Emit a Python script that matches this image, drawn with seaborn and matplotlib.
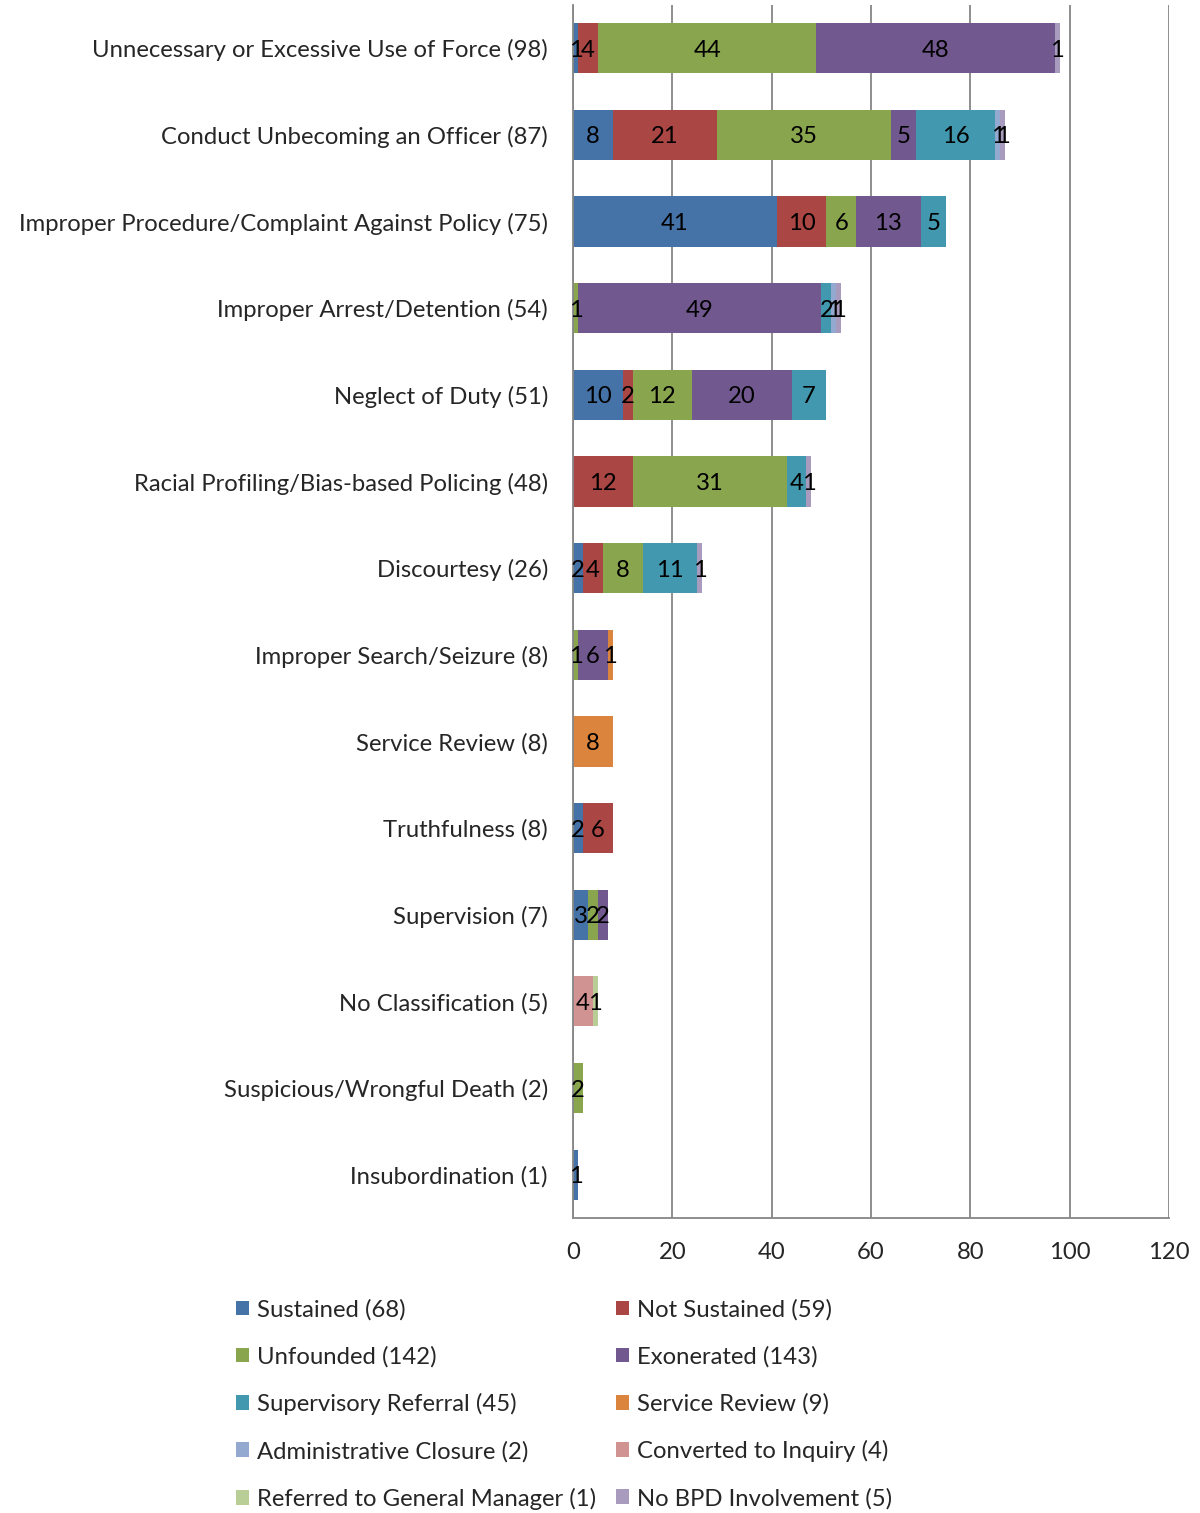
import numpy as np
import pandas as pd
import seaborn as sns
import matplotlib.pyplot as plt
from matplotlib.patches import Patch

# 数据
CATEGORIES = [
    "Unnecessary or Excessive Use of Force (98)",
    "Conduct Unbecoming an Officer (87)",
    "Improper Procedure/Complaint Against Policy (75)",
    "Improper Arrest/Detention (54)",
    "Neglect of Duty (51)",
    "Racial Profiling/Bias-based Policing (48)",
    "Discourtesy (26)",
    "Improper Search/Seizure (8)",
    "Service Review (8)",
    "Truthfulness (8)",
    "Supervision (7)",
    "No Classification (5)",
    "Suspicious/Wrongful Death (2)",
    "Insubordination (1)",
]
SERIES = [
    "Sustained (68)", "Not Sustained (59)", "Unfounded (142)", "Exonerated (143)",
    "Supervisory Referral (45)", "Service Review (9)", "Administrative Closure (2)",
    "Converted to Inquiry (4)", "Referred to General Manager (1)", "No BPD Involvement (5)",
]
sustained     = [1, 8, 41, 0, 10, 0, 2, 0, 0, 2, 3, 0, 0, 1]
not_sustained = [4, 21, 10, 0, 2, 12, 4, 0, 0, 6, 0, 0, 0, 0]
unfounded     = [44, 35, 6, 1, 12, 31, 8, 1, 0, 0, 2, 0, 2, 0]
exonerated    = [48, 5, 13, 49, 20, 0, 0, 6, 0, 0, 2, 0, 0, 0]
sup_referral  = [0, 16, 5, 2, 7, 4, 11, 0, 0, 0, 0, 0, 0, 0]
service_rev   = [0, 0, 0, 0, 0, 0, 0, 1, 8, 0, 0, 0, 0, 0]
admin_closure = [0, 1, 0, 1, 0, 0, 0, 0, 0, 0, 0, 0, 0, 0]
converted     = [0, 0, 0, 0, 0, 0, 0, 0, 0, 0, 0, 4, 0, 0]
referred_gm   = [0, 0, 0, 0, 0, 0, 0, 0, 0, 0, 0, 1, 0, 0]
no_bpd        = [1, 1, 0, 1, 0, 1, 1, 0, 0, 0, 0, 0, 0, 0]
XTICKS = [0, 20, 40, 60, 80, 100, 120]

COLORS = ["#4572A7", "#AA4643", "#89A54E", "#71588F", "#4198AF",
          "#DB843D", "#93A9CF", "#D19392", "#B9CD96", "#A99BBD"]

values = np.array([sustained, not_sustained, unfounded, exonerated, sup_referral,
                   service_rev, admin_closure, converted, referred_gm, no_bpd])
cum = values.cumsum(axis=0)

FS = 17.2

sns.set_theme(style="white")
plt.rcParams['font.family'] = ['Lato', 'DejaVu Sans']

fig = plt.figure(figsize=(12, 15.13), dpi=100)
ax = fig.add_axes([0.4775, 0.195, 0.4967, 0.8017])

# 堆叠条形：从最长的累积值开始画，后画的覆盖前面的
for i in range(len(SERIES) - 1, -1, -1):
    df = pd.DataFrame({"cat": CATEGORIES, "val": cum[i]})
    sns.barplot(data=df, x="val", y="cat", color=COLORS[i], width=0.58,
                saturation=1, linewidth=0, ax=ax, orient="h")

# 数值标签
for i in range(len(SERIES)):
    left = cum[i] - values[i]
    for j, v in enumerate(values[i]):
        if v > 0:
            ax.text(left[j] + v / 2, j, str(v), ha="center", va="center_baseline",
                    fontsize=FS, color="black")

ax.set_xlim(0, 120)
ax.set_ylim(13.5, -0.5)
ax.set_xticks(XTICKS)
ax.set_xlabel("")
ax.set_ylabel("")
ax.grid(axis="x", color="#868686", linewidth=1.3)
ax.set_axisbelow(True)
for s in ["top", "right"]:
    ax.spines[s].set_visible(False)
for s in ["left", "bottom"]:
    ax.spines[s].set_color("#868686")
    ax.spines[s].set_linewidth(1.3)
ax.tick_params(axis="x", labelsize=FS, pad=17, length=0)
ax.tick_params(axis="y", labelsize=FS, pad=18, length=0)

handles = [Patch(facecolor=c, edgecolor="none") for c in COLORS]
order = [0, 2, 4, 6, 8, 1, 3, 5, 7, 9]
fig.legend([handles[k] for k in order], [SERIES[k] for k in order],
           loc="upper left", bbox_to_anchor=(0.1963, 0.1415), ncol=2,
           frameon=False, fontsize=FS, handlelength=0.58, handleheight=0.58,
           handletextpad=0.3, labelspacing=1.07, columnspacing=0.83,
           borderaxespad=0, borderpad=0)

plt.savefig("out.png")
